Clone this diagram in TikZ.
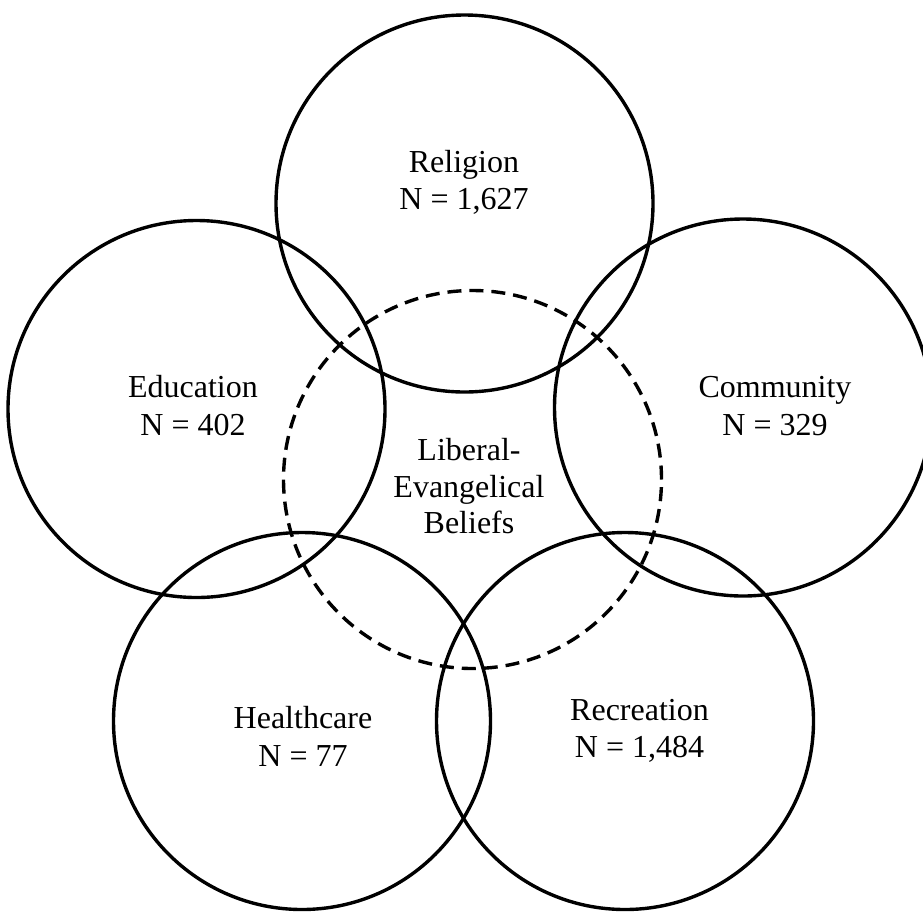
\documentclass[tikz,border=0pt]{standalone}
\usepackage{fontspec}
\setmainfont{Liberation Serif}
\begin{document}
\begin{tikzpicture}[x=1pt,y=-1pt,
  ring/.style={draw=black,line width=3.4pt},
  dashring/.style={draw=black,line width=3.4pt,dash pattern=on 14pt off 8pt},
  lbl/.style={anchor=base,inner sep=0pt,font=\fontsize{32}{37}\selectfont}]
\useasboundingbox (0,0) rectangle (923,911);
\fill[white] (0,0) rectangle (923,911);
% circles
\coordinate (cRel) at (464.5,203.5);
\coordinate (cEdu) at (196.5,409);
\coordinate (cCom) at (743,407.5);
\coordinate (cHea) at (302,721);
\coordinate (cRec) at (625,721);
\coordinate (cLib) at (472.5,479.5);
\draw[ring] (cRel) circle[radius=188.5pt];
\draw[ring] (cEdu) circle[radius=188.5pt];
\draw[ring] (cCom) circle[radius=188.5pt];
\draw[ring] (cHea) circle[radius=188.5pt];
\draw[ring] (cRec) circle[radius=188.5pt];
\draw[dashring] (cLib) circle[radius=189pt];
% labels
\node[lbl] (rel1) at (464,172) {Religion};
\node[lbl] (rel2) at (464,209) {N = 1,627};
\node[lbl] (edu1) at (193,397) {Education};
\node[lbl] (edu2) at (193,435) {N = 402};
\node[lbl] (com1) at (775,397) {Community};
\node[lbl] (com2) at (775,435) {N = 329};
\node[lbl] (lib1) at (469,460) {Liberal-};
\node[lbl] (lib2) at (469,497) {Evangelical};
\node[lbl] (lib3) at (469,533) {Beliefs};
\node[lbl] (hea1) at (303,728) {Healthcare};
\node[lbl] (hea2) at (303,766) {N = 77};
\node[lbl] (rec1) at (639.5,720) {Recreation};
\node[lbl] (rec2) at (639.5,757) {N = 1,484};
\end{tikzpicture}
\end{document}
